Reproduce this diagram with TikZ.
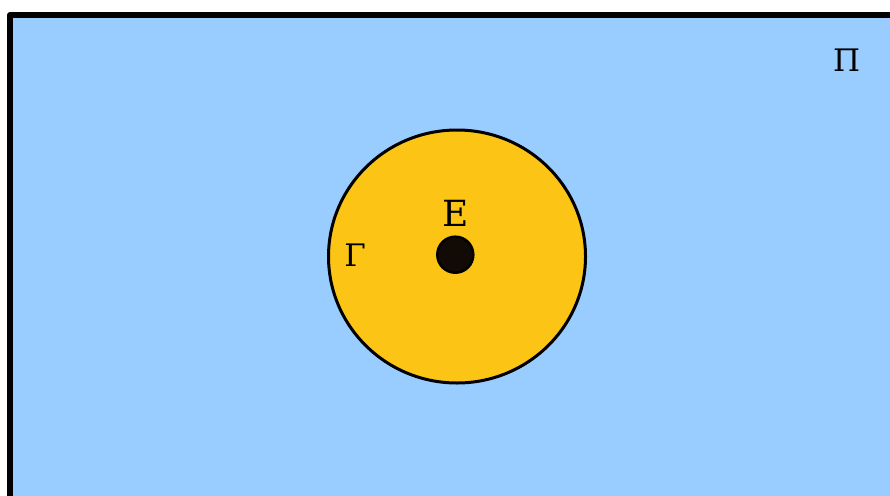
\documentclass[tikz,border=0pt]{standalone}
\usepackage{fontspec}
\setmainfont{DejaVu Serif}
\definecolor{planeblue}{HTML}{99CCFF}
\definecolor{discyellow}{HTML}{FCC515}
\definecolor{dotbrown}{HTML}{120B05}
\tikzset{
  lbl/.style={inner sep=0pt, text=black, font=\fontsize{31}{31}\selectfont},
}
\begin{document}
\begin{tikzpicture}[x=1pt,y=-1pt]
\useasboundingbox (0,0) rectangle (890,495);
\clip (0,0) rectangle (890,495);
\fill[white] (0,0) rectangle (890,495);
\draw[line width=6pt, line join=round, fill=planeblue] (10,15) rectangle (905,515);
\draw[line width=3pt, fill=discyellow] (457,256.5) ellipse [x radius=128.5, y radius=126.5];
\draw[line width=2.5pt, fill=dotbrown] (455.3,254.7) circle [radius=18];
\node[lbl] (pi) at (846.7,60) {Π};
\node[lbl] (gamma) at (355,255.5) {Γ};
\node[lbl, font=\fontsize{36}{36}\selectfont] (e) at (455.8,213.3) {Ε};
\end{tikzpicture}
\end{document}
